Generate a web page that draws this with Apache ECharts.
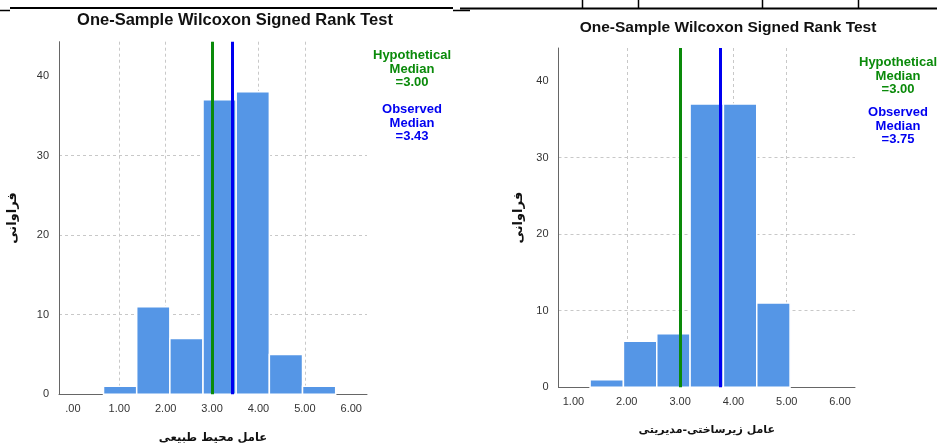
<!DOCTYPE html>
<html><head><meta charset="utf-8">
<script src="https://cdn.jsdelivr.net/npm/echarts@6/dist/echarts.min.js"></script>
<style>html,body{margin:0;padding:0;background:#fff}#c{width:937px;height:446px}</style>
</head><body><div id="c"></div>
<script>
// ---- data ----
const titleText = 'One-Sample Wilcoxon Signed Rank Test';
const yName = 'فراوانی';
const xTickValues = [0, 1, 2, 3, 4, 5, 6];
const yTickValues = [0, 10, 20, 30, 40];
// left chart
const leftXName = 'عامل محیط طبیعی';
const leftBinEdges = [0.66, 1.375, 2.09, 2.805, 3.52, 4.235, 4.95, 5.665];
const leftCounts = [1, 11, 7, 37, 38, 5, 1];
const leftHypMedian = 3.00;
const leftObsMedian = 3.43;
// right chart
const rightXName = 'عامل زیرساختی-مدیریتی';
const rightXTickValues = [1, 2, 3, 4, 5, 6];
const rightBinEdges = [1.3125, 1.9375, 2.5625, 3.1875, 3.8125, 4.4375, 5.0625];
const rightCounts = [1, 6, 7, 37, 37, 11];
const rightHypMedian = 3.00;
const rightObsMedian = 3.75;

function bins(edges, counts) {
  return counts.map((c, i) => [edges[i], edges[i + 1], c]);
}
const fmtX = v => v === 0 ? '.00' : v.toFixed(2);
const BAR = '#5596e6';
const GREEN = '#0a8a0a';
const BLUE = '#0000f0';

const chart = echarts.init(document.getElementById('c'), null, {renderer: 'canvas'});

function renderBin(params, api) {
  const p0 = api.coord([api.value(0), 0]);
  const p1 = api.coord([api.value(1), api.value(2)]);
  return {
    type: 'rect',
    shape: {x: p0[0], y: p1[1], width: p1[0] - p0[0], height: p0[1] - p1[1]},
    style: {fill: BAR, stroke: '#fff', lineWidth: 1.5}
  };
}

const gridLine = {show: true, showMinLine: false, showMaxLine: false, lineStyle: {color: '#c8c8c8', type: [3, 3], width: 1}};

function xAxis(idx, min, max, ticks, name, nameGap, nameSize) {
  return {
    type: 'value', gridIndex: idx, min: min, max: max,
    name: name, nameLocation: 'middle', nameGap: nameGap,
    nameTextStyle: {fontFamily: 'DejaVu Sans', fontWeight: 'bold', fontSize: nameSize, color: '#111'},
    axisLine: {show: true, onZero: false, lineStyle: {color: '#666', width: 1}},
    axisTick: {show: false, customValues: ticks},
    axisLabel: {formatter: fmtX, customValues: ticks, color: '#333', fontSize: 11, fontFamily: 'Liberation Sans', margin: 9},
    splitLine: gridLine
  };
}
function yAxis(idx, name, nameGap) {
  return {
    type: 'value', gridIndex: idx, min: 0, max: 44.3,
    name: name, nameLocation: 'middle', nameGap: nameGap, nameRotate: 90,
    nameTextStyle: {fontFamily: 'DejaVu Sans', fontWeight: 'bold', fontSize: 13, color: '#111'},
    axisLine: {show: true, onZero: false, lineStyle: {color: '#666', width: 1}},
    axisTick: {show: false, customValues: yTickValues},
    axisLabel: {customValues: yTickValues, color: '#333', fontSize: 11, fontFamily: 'Liberation Sans', margin: 10},
    splitLine: gridLine
  };
}
function medianLines(hyp, obs) {
  return {
    silent: true, symbol: 'none', label: {show: false},
    data: [
      {xAxis: hyp, lineStyle: {color: GREEN, width: 3, type: 'solid'}},
      {xAxis: obs, lineStyle: {color: BLUE, width: 3, type: 'solid'}}
    ]
  };
}
function legendText(x, y, lines, color) {
  return {
    type: 'text', x: x, y: y,
    style: {text: lines.join('\n'), fill: color, font: 'bold 13px "Liberation Sans", Arial', align: 'center', verticalAlign: 'top', lineHeight: 13.5}
  };
}

chart.setOption({
  animation: false,
  title: [
    {text: titleText, left: 230, top: 7, textAlign: 'center', textStyle: {fontFamily: 'Liberation Sans', fontWeight: 'bold', fontSize: 16.5, color: '#111'}},
    {text: titleText, left: 723, top: 15, textAlign: 'center', textStyle: {fontFamily: 'Liberation Sans', fontWeight: 'bold', fontSize: 15.5, color: '#111'}}
  ],
  grid: [
    {left: 59, right: 570, top: 41.7, bottom: 51.7, outerBoundsMode: 'none', containLabel: false},
    {left: 558.5, right: 82, top: 48, bottom: 58.7, outerBoundsMode: 'none', containLabel: false}
  ],
  xAxis: [
    xAxis(0, -0.3, 6.34, xTickValues, leftXName, 38, 11.5),
    xAxis(1, 0.72, 6.28, rightXTickValues, rightXName, 37, 11)
  ],
  yAxis: [yAxis(0, yName, 40), yAxis(1, yName, 33)],
  series: [
    {type: 'custom', xAxisIndex: 0, yAxisIndex: 0, renderItem: renderBin, data: bins(leftBinEdges, leftCounts), markLine: medianLines(leftHypMedian, leftObsMedian)},
    {type: 'custom', xAxisIndex: 1, yAxisIndex: 1, renderItem: renderBin, data: bins(rightBinEdges, rightCounts), markLine: medianLines(rightHypMedian, rightObsMedian)}
  ],
  graphic: [
    legendText(412, 49, ['Hypothetical', 'Median', '=' + leftHypMedian.toFixed(2)], GREEN),
    legendText(412, 103, ['Observed', 'Median', '=' + leftObsMedian.toFixed(2)], BLUE),
    legendText(898, 56, ['Hypothetical', 'Median', '=' + rightHypMedian.toFixed(2)], GREEN),
    legendText(898, 106, ['Observed', 'Median', '=' + rightObsMedian.toFixed(2)], BLUE),
    {type: 'line', shape: {x1: 10, y1: 8, x2: 453, y2: 8}, style: {stroke: '#000', lineWidth: 2}},
    {type: 'line', shape: {x1: 0, y1: 10.5, x2: 10, y2: 10.5}, style: {stroke: '#000', lineWidth: 1.5}},
    {type: 'line', shape: {x1: 453, y1: 10.5, x2: 470, y2: 10.5}, style: {stroke: '#000', lineWidth: 1.5}},
    {type: 'line', shape: {x1: 460, y1: 8.5, x2: 937, y2: 8.5}, style: {stroke: '#000', lineWidth: 2}},
    {type: 'line', shape: {x1: 582.5, y1: 0, x2: 582.5, y2: 8}, style: {stroke: '#000', lineWidth: 1.5}},
    {type: 'line', shape: {x1: 638.5, y1: 0, x2: 638.5, y2: 8}, style: {stroke: '#000', lineWidth: 1.5}},
    {type: 'line', shape: {x1: 762.5, y1: 0, x2: 762.5, y2: 8}, style: {stroke: '#000', lineWidth: 1.5}},
    {type: 'line', shape: {x1: 858.5, y1: 0, x2: 858.5, y2: 8}, style: {stroke: '#000', lineWidth: 1.5}}
  ]
});
</script></body></html>
